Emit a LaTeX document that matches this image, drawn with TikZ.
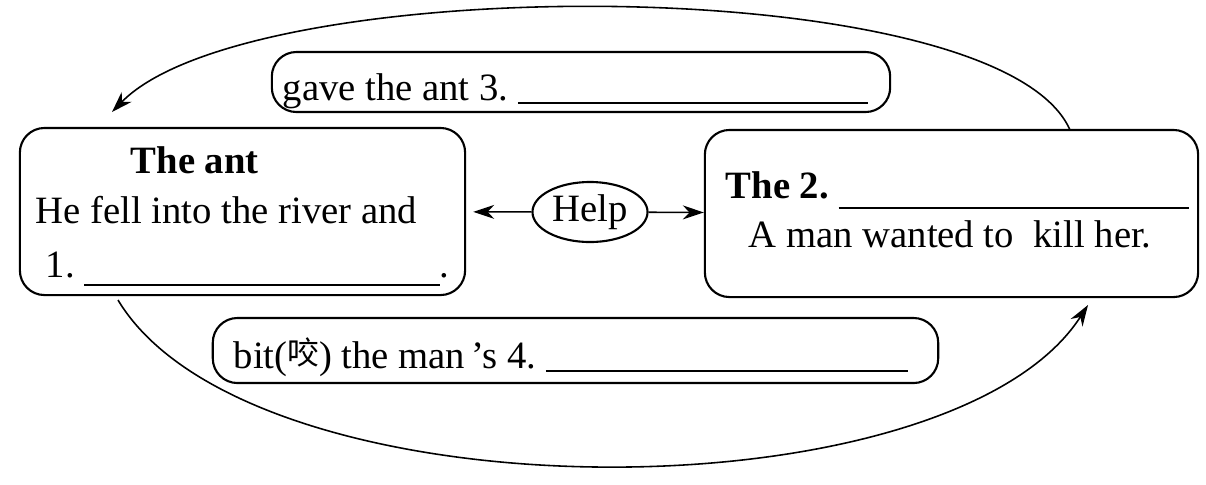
\documentclass[tikz,border=0pt]{standalone}
\usepackage{fontspec}
\setmainfont{Liberation Serif}
\newfontfamily\cjk{Noto Sans CJK SC}
\usetikzlibrary{arrows.meta,shapes.geometric}

\tikzset{
  roundbox/.style={draw, line width=0.6pt, rounded corners=7pt, inner sep=0pt},
  txt/.style={anchor=base west, inner sep=0pt},
  arr/.style={-{Stealth[length=6pt,width=4pt]}, line width=0.45pt},
}
\newcommand{\blankline}[2][-1pt]{\rule[#1]{#2}{0.5pt}}

\begin{document}
\begin{tikzpicture}[x=0.01cm, y=-0.01cm, font=\fontsize{11pt}{14pt}\selectfont]
  \useasboundingbox (0,0) rectangle (1206,484);

  % the four boxes and the middle ellipse
  \node[roundbox, minimum width=4.45cm, minimum height=1.67cm] (antbox) at (242.5,211.5) {};
  \node[roundbox, minimum width=4.93cm, minimum height=1.67cm] (birdbox) at (951.5,213.5) {};
  \node[roundbox, minimum width=6.18cm, minimum height=0.60cm] (givebox) at (581,82) {};
  \node[roundbox, minimum width=7.25cm, minimum height=0.65cm] (bitebox) at (575.5,350.5) {};
  \node[ellipse, draw, line width=0.6pt, minimum width=1.15cm, minimum height=0.60cm,
        inner sep=0pt] (help) at (590,212) {Help};

  % texts
  \node[txt] (antname) at (130,173) {\textbf{The ant}};
  \node[txt] (antline) at (35,223) {He fell into the river and};
  \node[txt] (antblank) at (45,277) {1.\ \blankline[-2.5pt]{3.55cm}.};

  \node[txt] (birdname) at (725,198) {\textbf{The 2.}\ \blankline[-3pt]{3.5cm}};
  \node[txt] (birdline) at (748,247) {A man wanted to\ \ kill her.};

  \node[txt] (givetext) at (282,100) {gave the ant 3.\ \blankline{3.5cm}};
  \node[txt] (bitetext) at (233,368)
    {bit({\cjk\fontsize{9pt}{9pt}\selectfont\raisebox{1pt}{咬}}) the man\,’s 4.\ \blankline{3.62cm}};

  % help arrows
  \draw[arr, shorten >=2pt] (help) -- (antbox);
  \draw[arr] (help) -- (birdbox);

  % the big loop
  \coordinate (topstart) at (1070,130);
  \coordinate (topend) at (112,112);
  \coordinate (botstart) at (118,300);
  \coordinate (botend) at (1088,305);
  \draw[arr] (topstart) .. controls (1000,-30) and (250,-30) .. (topend);
  \draw[arr] (botstart) .. controls (250,520) and (950,520) .. (botend);
\end{tikzpicture}
\end{document}
